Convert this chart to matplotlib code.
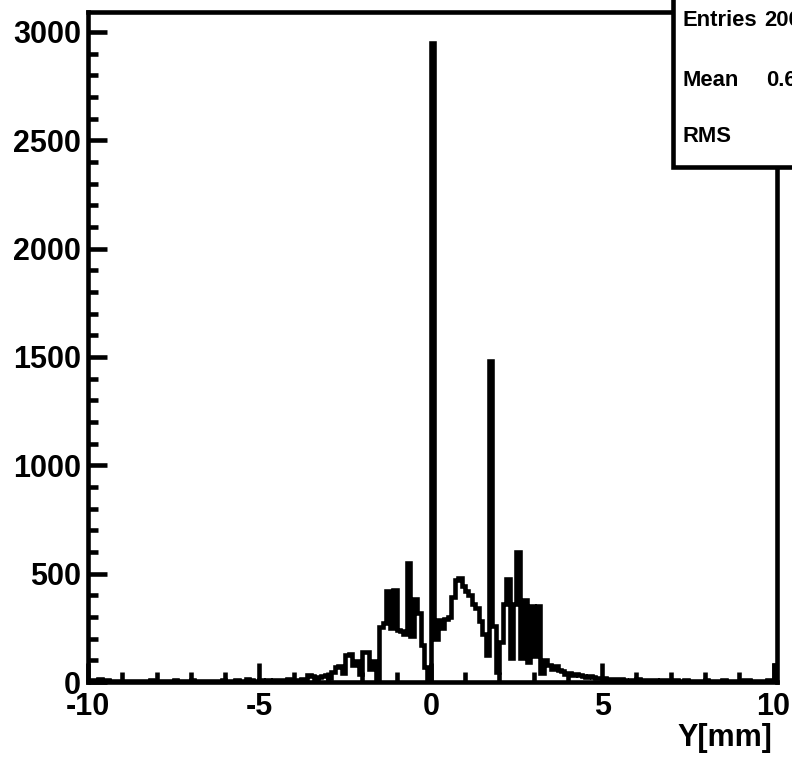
import numpy as np
import matplotlib
matplotlib.use("Agg")
import matplotlib.pyplot as plt
from matplotlib.patches import Rectangle
from matplotlib.ticker import MultipleLocator

plt.rcParams['font.family'] = ['Liberation Sans', 'DejaVu Sans']
plt.rcParams['font.weight'] = 'bold'
plt.rcParams['axes.unicode_minus'] = False

# Histogram of hit position Y, 0.1 mm bins from -10 to 10.1 mm
bin_edges = np.round(np.arange(-10.0, 10.1001, 0.1), 2)

counts_left_tail = [6, 8, 5, 12, 11, 7, 5, 4, 6, 5,
                    4, 6, 3, 5, 4, 6, 5, 4, 8, 6,
                    5, 4, 6, 3, 5, 7, 4, 5, 6, 5,
                    8, 4, 5, 6, 3, 5, 4, 6, 5, 7,
                    5, 6, 4, 8, 6, 5, 13, 10, 6, 5,
                    7, 6, 8, 5, 9, 7, 10, 8, 12, 9,
                    11, 10, 14]

counts_core = [16, 30, 26, 14, 22, 28, 32, 20, 45, 68,
               72, 40, 125, 130, 80, 95, 35, 140, 138, 60,
               95, 5, 255, 270, 420, 250, 425, 240, 235, 220,
               550, 210, 385, 320, 170, 70, 3, 2950, 200, 285,
               250, 290, 300, 390, 470, 480, 445, 420, 400, 360,
               340, 280, 220, 125, 1480, 260, 45, 185, 360, 475,
               110, 360, 600, 110, 380, 90, 350, 120, 350, 40,
               100, 80, 60, 75, 55, 50, 35, 40]

counts_right_tail = [32, 35, 30, 28, 25, 28, 22, 20, 18, 20,
                     16, 14, 15, 12, 14, 10, 4, 8, 10, 12,
                     9, 8, 10, 7, 8, 6, 9, 7, 5, 6,
                     8, 6, 5, 7, 6, 5, 4, 6, 5, 7,
                     5, 4, 6, 5, 8, 6, 5, 4, 6, 5,
                     7, 8, 5, 6, 4, 6, 5, 7, 9, 80]

counts = np.array(counts_left_tail + counts_core + counts_right_tail, dtype=float)

stat_labels = ["Entries", "Mean", "RMS"]
stat_values = ["20000", "0.6412", "1.532"]

W, H = 792, 757
fig = plt.figure(figsize=(W / 100, H / 100), dpi=100)
fig.patch.set_facecolor('white')

ax = fig.add_axes([88 / W, (H - 682) / H, (777 - 88) / W, (682 - 12) / H])

lw = 3.3
step = ax.stairs(counts, bin_edges, color='black', linewidth=lw, baseline=0)
step.set_joinstyle('miter')

ax.set_xlim(-10, 10.1)
ax.set_ylim(0, 3092)

for s in ax.spines.values():
    s.set_linewidth(lw)
    s.set_color('black')

ax.xaxis.set_major_locator(MultipleLocator(5))
ax.xaxis.set_minor_locator(MultipleLocator(1))
ax.yaxis.set_major_locator(MultipleLocator(500))
ax.yaxis.set_minor_locator(MultipleLocator(100))

ax.tick_params(axis='both', which='both', direction='in', width=lw,
               top=False, right=False, color='black')
ax.tick_params(axis='x', which='major', length=14, pad=7, labelsize=22)
ax.tick_params(axis='x', which='minor', length=7)
ax.tick_params(axis='y', which='major', length=14, pad=5, labelsize=22)
ax.tick_params(axis='y', which='minor', length=7)

for lab in ax.get_xticklabels() + ax.get_yticklabels():
    lab.set_fontweight('bold')

fig.text(772 / W, 1 - 738 / H, "Y[mm]", ha='right', va='center',
         fontsize=22, fontweight='bold')

# Statistics box in the upper right corner
box = Rectangle((673 / W, 1 - 167 / H), 0.5, 0.5, transform=fig.transFigure,
                facecolor='white', edgecolor='black', linewidth=lw,
                zorder=5, clip_on=False)
fig.patches.append(box)

rows_y = [20, 80, 137]
value_x = [764, 766, 800]
for lab, val, yy, vx in zip(stat_labels, stat_values, rows_y, value_x):
    fig.text(682 / W, 1 - yy / H, lab, ha='left', va='center',
             fontsize=15.8, fontweight='bold', zorder=6)
    fig.text(vx / W, 1 - yy / H, val, ha='left', va='center',
             fontsize=15.8, fontweight='bold', zorder=6)

fig.savefig("out.png", dpi=100)
